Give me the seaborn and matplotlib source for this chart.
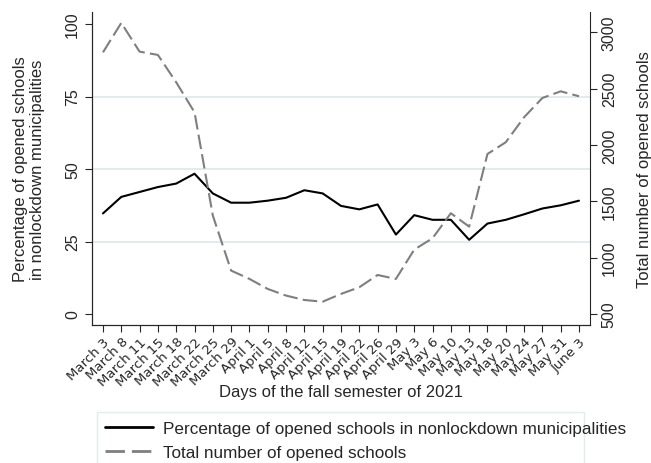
import matplotlib
matplotlib.use("Agg")
import matplotlib.pyplot as plt
from matplotlib.patches import Rectangle
import numpy as np
import pandas as pd
import seaborn as sns

dates = [
    "March 3", "March 8", "March 11", "March 15", "March 18", "March 22",
    "March 25", "March 29", "April 1", "April 5", "April 8", "April 12",
    "April 15", "April 19", "April 22", "April 26", "April 29", "May 3",
    "May 6", "May 10", "May 13", "May 18", "May 20", "May 24", "May 27",
    "May 31", "June 3",
]
pct_open = [
    34.7, 40.4, 42.1, 43.8, 45.0, 48.4, 41.6, 38.4, 38.4, 39.1, 40.1, 42.7,
    41.6, 37.3, 36.1, 37.8, 27.4, 34.1, 32.5, 32.5, 25.6, 31.2, 32.5, 34.4,
    36.4, 37.5, 39.1,
]
total_open = [
    2822, 3083, 2828, 2799, 2556, 2290, 1373, 885, 811, 722, 663, 624,
    609, 678, 737, 846, 811, 1071, 1172, 1394, 1275, 1920, 2024, 2246,
    2417, 2476, 2432,
]

df = pd.DataFrame({"idx": np.arange(len(dates)), "date": dates,
                   "pct": pct_open, "total": total_open})

sns.set_style("ticks")
plt.rcParams["font.family"] = ["Liberation Sans", "DejaVu Sans"]

fig = plt.figure(figsize=(6.51, 4.64), dpi=100)
ax = fig.add_axes([0.1413, 0.2974, 0.765, 0.6746])
ax2 = ax.twinx()

# light reference lines on the left axis
for y in [25, 50, 75]:
    ax.axhline(y, color="#dde9ec", linewidth=1.2, zorder=0)

sns.lineplot(data=df, x="idx", y="pct", ax=ax, color="black", linewidth=1.5,
             label="Percentage of opened schools in nonlockdown municipalities",
             legend=False)
sns.lineplot(data=df, x="idx", y="total", ax=ax2, color="#7f7f7f", linewidth=1.5,
             linestyle=(0, (7, 2.5)), label="Total number of opened schools",
             legend=False)

ax.set_xlim(-0.6, 26.6)
ax.set_ylim(-3.8, 104.2)
ax2.set_ylim(402, 3180)
ax.set_yticks([0, 25, 50, 75, 100])
ax2.set_yticks([500, 1000, 1500, 2000, 2500, 3000])

ax.set_xticks(df["idx"])
ax.set_xticklabels(dates, rotation=45, ha="right", rotation_mode="anchor",
                   fontsize=9.5, family="DejaVu Sans")
ax.tick_params(axis="y", labelrotation=90, labelsize=11.5, length=5)
ax2.tick_params(axis="y", labelrotation=90, labelsize=11.5, length=5)
ax.tick_params(axis="x", length=5, pad=2)
for lab in ax.get_yticklabels() + ax2.get_yticklabels():
    lab.set_va("center")

ax.set_xlabel("Days of the fall semester of 2021", fontsize=12)
ax.set_ylabel("Percentage of opened schools\nin nonlockdown municipalities", fontsize=12)
ax2.set_ylabel("Total number of opened schools", fontsize=12)
ax.xaxis.set_label_coords(0.5, -0.19)
ax.yaxis.set_label_coords(-0.094, 0.5)
ax2.yaxis.set_label_coords(1.094, 0.5)

for a in (ax, ax2):
    a.spines["top"].set_visible(False)
ax.spines["right"].set_visible(False)

# legend box is narrower than its text in the original, so draw it separately
fig.add_artist(Rectangle((97 / 651, -0.05), (584 - 97) / 651, 0.05 + (464 - 413) / 464,
                         transform=fig.transFigure, facecolor="white",
                         edgecolor="#e3eded", linewidth=1.0, zorder=1))

h1, l1 = ax.get_legend_handles_labels()
h2, l2 = ax2.get_legend_handles_labels()
leg = fig.legend(h1 + h2, l1 + l2, loc="upper left", bbox_to_anchor=(0.1613, 0.091),
                 frameon=False, fontsize=12.3, handlelength=2.8, handletextpad=0.59,
                 borderpad=0, borderaxespad=0, labelspacing=0.55)
for line in leg.get_lines():
    line.set_linewidth(2.0)
leg.set_zorder(2)

fig.savefig("out.png", dpi=100)
